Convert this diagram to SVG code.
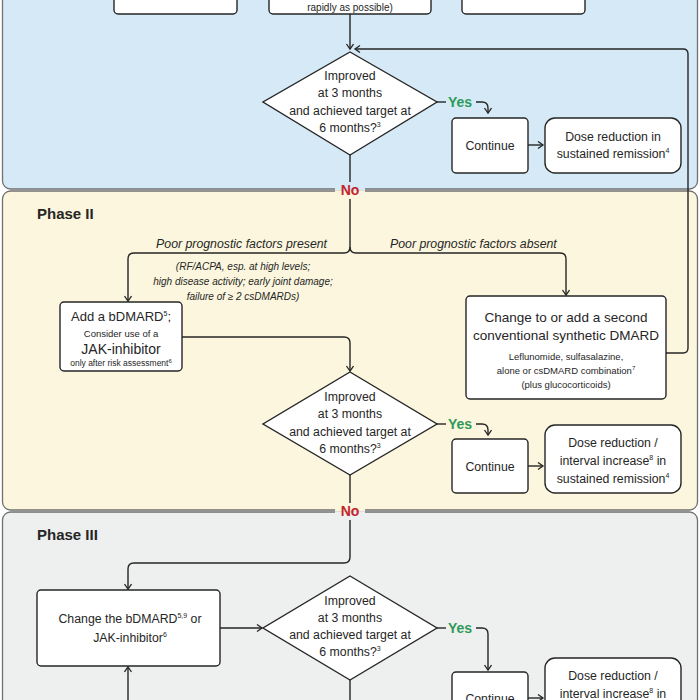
<svg xmlns="http://www.w3.org/2000/svg" width="700" height="700" viewBox="0 0 700 700">
<defs>
<style>
text{font-family:"Liberation Sans",Arial,sans-serif;fill:#262626;text-anchor:middle}
.panel{stroke:#707070;stroke-width:1.3}
.box{fill:#fff;stroke:#262626;stroke-width:1.4}
.d{fill:#fff;stroke:#262626;stroke-width:1.4}
.t{font-size:12.3px}
.s{font-size:10px}
.it{font-style:italic}
.ph{font-size:15px;font-weight:bold;text-anchor:start}
.yes{font-size:14px;font-weight:bold;fill:#2e9a5a;text-anchor:start}
.no{font-size:14px;font-weight:bold;fill:#c3242c}
.c{fill:none;stroke:#262626;stroke-width:1.4}
.sup{font-size:7px}
</style>
<marker id="ah" markerWidth="10" markerHeight="10" refX="6" refY="4" orient="auto" markerUnits="userSpaceOnUse">
<path d="M1,0.5 L6,4 L1,7.5" fill="none" stroke="#262626" stroke-width="1.3"/>
</marker>
</defs>

<g id="panels">
<rect class="panel" x="2.5" y="-20" width="695" height="209" rx="8" fill="#d5eaf6"/>
<rect class="panel" x="2.5" y="191" width="695" height="319" rx="8" fill="#fbf6dd"/>
<rect class="panel" x="2.5" y="512" width="695" height="220" rx="8" fill="#eeefef"/>
<rect x="335" y="187.5" width="30" height="2.8" fill="#d5eaf6"/>
<rect x="335" y="190.3" width="30" height="2.6" fill="#fbf6dd"/>
<rect x="335" y="508.5" width="30" height="2.8" fill="#fbf6dd"/>
<rect x="335" y="511.3" width="30" height="2.6" fill="#eeefef"/>
<text class="ph" x="37" y="219">Phase II</text>
<text class="ph" x="37" y="540">Phase III</text>
</g>

<g id="connectors">
<path class="c" d="M350,14 V49" marker-end="url(#ah)"/>
<path class="c" d="M666,353 H683 Q688,353 688,348 V54 Q688,49 683,49 H355" marker-end="url(#ah)"/>
<path class="c" d="M437,102 H446"/>
<path class="c" d="M476,102 H482 Q488,102 488,108 V113" marker-end="url(#ah)"/>
<path class="c" d="M528,145 H543" marker-end="url(#ah)"/>
<path class="c" d="M350,155 V182"/>
<path class="c" d="M350,199 V247 Q350,253 344,253 H134 Q128,253 128,259 V301" marker-end="url(#ah)"/>
<path class="c" d="M350,247 Q350,253 356,253 H560 Q566,253 566,259 V295" marker-end="url(#ah)"/>
<path class="c" d="M182,337 H344 Q350,337 350,343 V371" marker-end="url(#ah)"/>
<path class="c" d="M437,424 H446"/>
<path class="c" d="M476,424 H482 Q488,424 488,430 V435" marker-end="url(#ah)"/>
<path class="c" d="M528,466 H543" marker-end="url(#ah)"/>
<path class="c" d="M350,475 V503"/>
<path class="c" d="M350,520 V557 Q350,563 344,563 H134 Q128,563 128,569 V589" marker-end="url(#ah)"/>
<path class="c" d="M220,628 H262" marker-end="url(#ah)"/>
<path class="c" d="M128,705 V667" marker-end="url(#ah)"/>
<path class="c" d="M437,628 H446"/>
<path class="c" d="M476,628 H482 Q488,628 488,634 V670" marker-end="url(#ah)"/>
<path class="c" d="M528,698 H543" marker-end="url(#ah)"/>
<path class="c" d="M350,680 V705"/>
<text class="yes" x="448" y="107">Yes</text>
<text class="yes" x="448" y="429">Yes</text>
<text class="yes" x="448" y="633">Yes</text>
<text class="no" x="350" y="195">No</text>
<text class="no" x="350" y="516">No</text>
<text class="t it" x="327" y="248" style="text-anchor:end">Poor prognostic factors present</text>
<text class="t it" x="390" y="248" style="text-anchor:start">Poor prognostic factors absent</text>
<text class="s it" x="243" y="270">(RF/ACPA, esp. at high levels;</text>
<text class="s it" x="243" y="285">high disease activity; early joint damage;</text>
<text class="s it" x="243" y="300">failure of ≥ 2 csDMARDs)</text>
</g>

<g id="top-boxes">
<rect class="box" x="114" y="-30" width="123" height="44" rx="4"/>
<rect class="box" x="269" y="-30" width="162" height="44" rx="4"/>
<rect class="box" x="462" y="-30" width="123" height="44" rx="4"/>
<text class="s" x="350" y="10.5">rapidly as possible)</text>
</g>

<g id="decision1">
<polygon class="d" points="350,52 437,102 350,155 263,102"/>
<text class="t" x="350" y="80">Improved</text>
<text class="t" x="350" y="97">at 3 months</text>
<text class="t" x="350" y="115">and achieved target at</text>
<text class="t" x="350" y="132">6 months?<tspan class="sup" dy="-5">3</tspan></text>
</g>
<g id="continue1">
<rect class="box" x="452" y="118" width="76" height="55" rx="4"/>
<text class="t" x="490" y="150">Continue</text>
</g>
<g id="dose1">
<rect class="box" x="545" y="118" width="136" height="55" rx="10"/>
<text class="t" x="613" y="141">Dose reduction in</text>
<text class="t" x="613" y="158">sustained remission<tspan class="sup" dy="-5">4</tspan></text>
</g>

<g id="bdmard">
<rect class="box" x="60" y="302" width="122" height="69" rx="4"/>
<text x="121" y="321" style="font-size:13px">Add a bDMARD<tspan class="sup" dy="-5">5</tspan><tspan dy="5">;</tspan></text>
<text x="121" y="337" style="font-size:9.5px">Consider use of a</text>
<text x="121" y="354" style="font-size:14px">JAK-inhibitor</text>
<text x="121" y="366" style="font-size:8.5px">only after risk assessment<tspan class="sup" dy="-3" style="font-size:6px">6</tspan></text>
</g>

<g id="csdmard">
<rect class="box" x="466" y="296" width="200" height="103" rx="4"/>
<text x="566" y="322" style="font-size:13.5px">Change to or add a second</text>
<text x="566" y="340" style="font-size:13.5px">conventional synthetic DMARD</text>
<text x="566" y="360" style="font-size:9.5px">Leflunomide, sulfasalazine,</text>
<text x="566" y="374" style="font-size:9.5px">alone or csDMARD combination<tspan class="sup" dy="-4" style="font-size:6px">7</tspan></text>
<text x="566" y="388" style="font-size:9.5px">(plus glucocorticoids)</text>
</g>

<g id="decision2">
<polygon class="d" points="350,372 437,424 350,475 263,424"/>
<text class="t" x="350" y="401">Improved</text>
<text class="t" x="350" y="418">at 3 months</text>
<text class="t" x="350" y="436">and achieved target at</text>
<text class="t" x="350" y="453">6 months?<tspan class="sup" dy="-5">3</tspan></text>
</g>
<g id="continue2">
<rect class="box" x="452" y="439" width="76" height="54" rx="4"/>
<text class="t" x="490" y="471">Continue</text>
</g>
<g id="dose2">
<rect class="box" x="545" y="425" width="136" height="68" rx="10"/>
<text class="t" x="613" y="447">Dose reduction /</text>
<text class="t" x="613" y="465">interval increase<tspan class="sup" dy="-5">8</tspan><tspan dy="5"> in</tspan></text>
<text class="t" x="613" y="483">sustained remission<tspan class="sup" dy="-5">4</tspan></text>
</g>

<g id="change-bdmard">
<rect class="box" x="37" y="590" width="183" height="76" rx="4"/>
<text class="t" x="130" y="623">Change the bDMARD<tspan class="sup" dy="-5">5,9</tspan><tspan dy="5"> or</tspan></text>
<text class="t" x="130" y="642">JAK-inhibitor<tspan class="sup" dy="-5">6</tspan></text>
</g>

<g id="decision3">
<polygon class="d" points="350,576 437,628 350,680 263,628"/>
<text class="t" x="350" y="605">Improved</text>
<text class="t" x="350" y="622">at 3 months</text>
<text class="t" x="350" y="639">and achieved target at</text>
<text class="t" x="350" y="656">6 months?<tspan class="sup" dy="-5">3</tspan></text>
</g>
<g id="continue3">
<rect class="box" x="452" y="672" width="76" height="55" rx="4"/>
<text class="t" x="490" y="703">Continue</text>
</g>
<g id="dose3">
<rect class="box" x="545" y="658" width="136" height="68" rx="10"/>
<text class="t" x="613" y="680">Dose reduction /</text>
<text class="t" x="613" y="698">interval increase<tspan class="sup" dy="-5">8</tspan><tspan dy="5"> in</tspan></text>
</g>
</svg>
